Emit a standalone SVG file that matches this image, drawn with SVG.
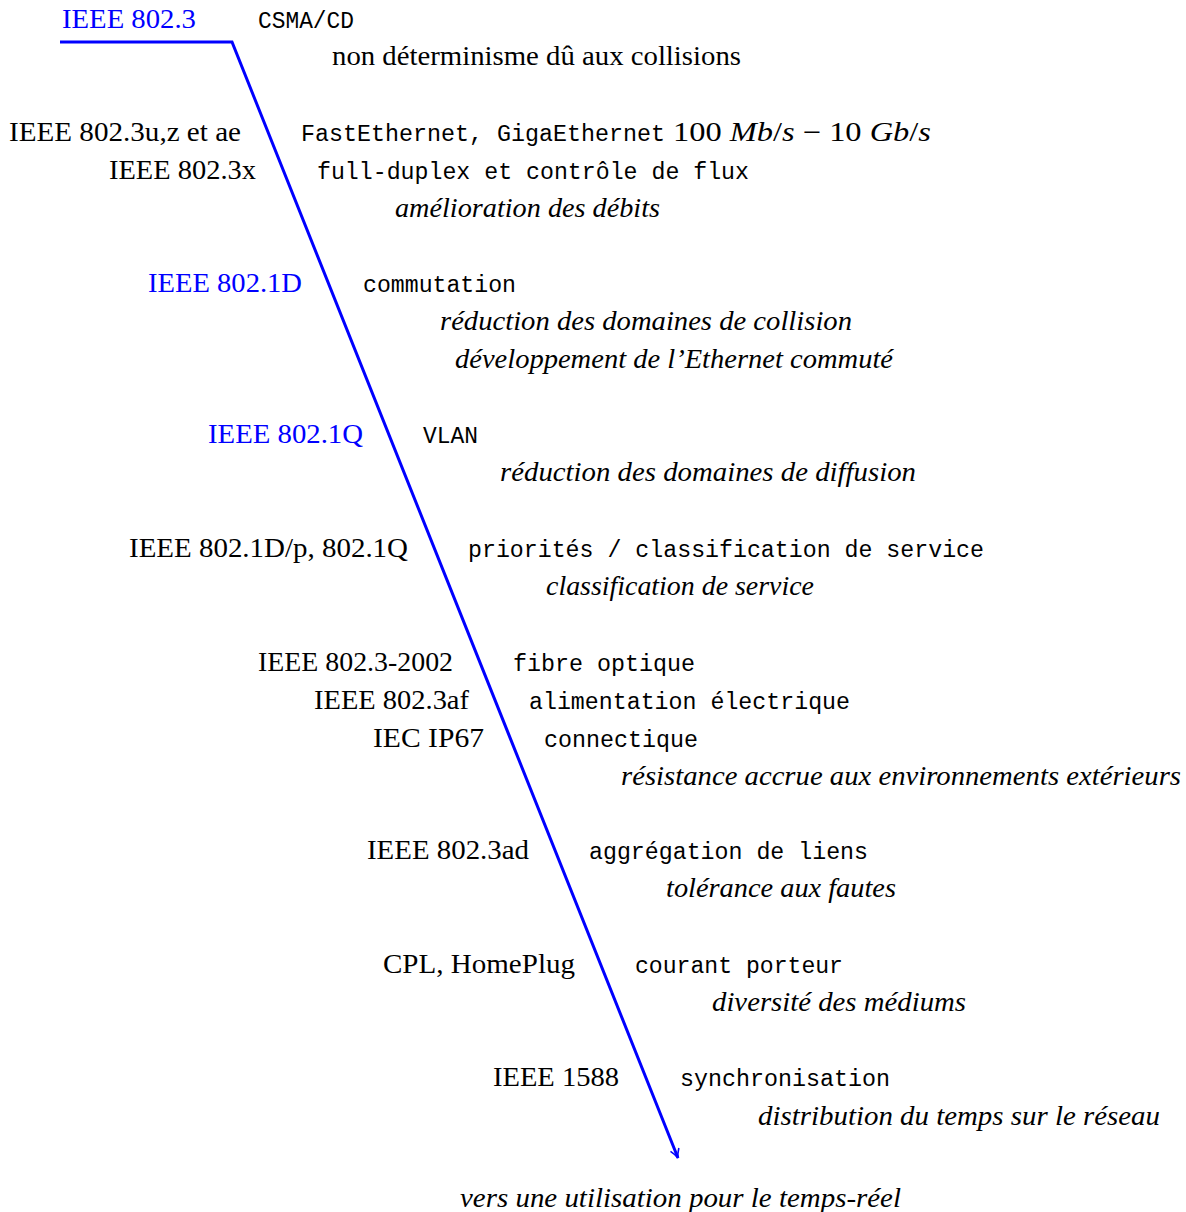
<svg xmlns="http://www.w3.org/2000/svg" width="1186" height="1212" viewBox="0 0 1186 1212">
<style>
.s{font-family:"Liberation Serif","DejaVu Serif",serif;font-size:27px;fill:#000}
.b{fill:#0000ff}
.i{font-family:"Liberation Serif","DejaVu Serif",serif;font-size:27px;font-style:italic;fill:#000}
.m{font-family:"Liberation Mono","DejaVu Sans Mono",monospace;font-size:23px;fill:#000}
.ln{fill:none;stroke:#0000ff;stroke-width:3}
</style>
<defs>
<marker id="ah" viewBox="-10 -6 12 12" refX="0" refY="0" markerWidth="12" markerHeight="12" markerUnits="userSpaceOnUse" orient="auto">
<path d="M-9,-4.5 Q-4,-1 0,0 Q-4,1 -9,4.5" fill="none" stroke="#0000ff" stroke-width="1.6"/>
</marker>
</defs>
<rect width="1186" height="1212" fill="#fff"/>
<g id="connectors">
<path class="ln" d="M60,42 L232,42 L678,1158" marker-end="url(#ah)"/>
</g>
<g id="n1">
<text class="s b" x="62" y="28" textLength="134" lengthAdjust="spacingAndGlyphs">IEEE 802.3</text>
<text class="m" x="258" y="28" textLength="96" lengthAdjust="spacingAndGlyphs">CSMA/CD</text>
<text class="s" x="332" y="65" textLength="409" lengthAdjust="spacingAndGlyphs">non déterminisme dû aux collisions</text>
</g>
<g id="n2">
<text class="s" x="9" y="141" textLength="232" lengthAdjust="spacingAndGlyphs">IEEE 802.3u,z et ae</text>
<text class="m" x="301" y="141" textLength="364" lengthAdjust="spacingAndGlyphs">FastEthernet, GigaEthernet</text>
<text class="s" x="673" y="141" textLength="258" lengthAdjust="spacingAndGlyphs">100 <tspan font-style="italic">Mb</tspan>/<tspan font-style="italic">s</tspan>  −  10 <tspan font-style="italic">Gb</tspan>/<tspan font-style="italic">s</tspan></text>
<text class="s" x="109" y="179" textLength="147" lengthAdjust="spacingAndGlyphs">IEEE 802.3x</text>
<text class="m" x="317" y="179" textLength="432" lengthAdjust="spacingAndGlyphs">full-duplex et contrôle de flux</text>
<text class="i" x="395" y="217" textLength="265" lengthAdjust="spacingAndGlyphs">amélioration des débits</text>
</g>
<g id="n3">
<text class="s b" x="148" y="292" textLength="154" lengthAdjust="spacingAndGlyphs">IEEE 802.1D</text>
<text class="m" x="363" y="292" textLength="153" lengthAdjust="spacingAndGlyphs">commutation</text>
<text class="i" x="440" y="330" textLength="412" lengthAdjust="spacingAndGlyphs">réduction des domaines de collision</text>
<text class="i" x="455" y="368" textLength="438" lengthAdjust="spacingAndGlyphs">développement de l’Ethernet commuté</text>
</g>
<g id="n4">
<text class="s b" x="208" y="443" textLength="155" lengthAdjust="spacingAndGlyphs">IEEE 802.1Q</text>
<text class="m" x="423" y="443" textLength="55" lengthAdjust="spacingAndGlyphs">VLAN</text>
<text class="i" x="500" y="481" textLength="416" lengthAdjust="spacingAndGlyphs">réduction des domaines de diffusion</text>
</g>
<g id="n5">
<text class="s" x="129" y="557" textLength="279" lengthAdjust="spacingAndGlyphs">IEEE 802.1D/p, 802.1Q</text>
<text class="m" x="468" y="557" textLength="516" lengthAdjust="spacingAndGlyphs">priorités / classification de service</text>
<text class="i" x="546" y="595" textLength="268" lengthAdjust="spacingAndGlyphs">classification de service</text>
</g>
<g id="n6">
<text class="s" x="258" y="671" textLength="195" lengthAdjust="spacingAndGlyphs">IEEE 802.3-2002</text>
<text class="m" x="513" y="671" textLength="182" lengthAdjust="spacingAndGlyphs">fibre optique</text>
<text class="s" x="314" y="709" textLength="155" lengthAdjust="spacingAndGlyphs">IEEE 802.3af</text>
<text class="m" x="529" y="709" textLength="321" lengthAdjust="spacingAndGlyphs">alimentation électrique</text>
<text class="s" x="373" y="747" textLength="111" lengthAdjust="spacingAndGlyphs">IEC IP67</text>
<text class="m" x="544" y="747" textLength="154" lengthAdjust="spacingAndGlyphs">connectique</text>
<text class="i" x="621" y="785" textLength="560" lengthAdjust="spacingAndGlyphs">résistance accrue aux environnements extérieurs</text>
</g>
<g id="n7">
<text class="s" x="367" y="859" textLength="162" lengthAdjust="spacingAndGlyphs">IEEE 802.3ad</text>
<text class="m" x="589" y="859" textLength="279" lengthAdjust="spacingAndGlyphs">aggrégation de liens</text>
<text class="i" x="666" y="897" textLength="230" lengthAdjust="spacingAndGlyphs">tolérance aux fautes</text>
</g>
<g id="n8">
<text class="s" x="383" y="973" textLength="192" lengthAdjust="spacingAndGlyphs">CPL, HomePlug</text>
<text class="m" x="635" y="973" textLength="208" lengthAdjust="spacingAndGlyphs">courant porteur</text>
<text class="i" x="712" y="1011" textLength="254" lengthAdjust="spacingAndGlyphs">diversité des médiums</text>
</g>
<g id="n9">
<text class="s" x="493" y="1086" textLength="126" lengthAdjust="spacingAndGlyphs">IEEE 1588</text>
<text class="m" x="680" y="1086" textLength="210" lengthAdjust="spacingAndGlyphs">synchronisation</text>
<text class="i" x="758" y="1125" textLength="402" lengthAdjust="spacingAndGlyphs">distribution du temps sur le réseau</text>
</g>
<g id="n10">
<text class="i" x="460" y="1207" textLength="441" lengthAdjust="spacingAndGlyphs">vers une utilisation pour le temps-réel</text>
</g>
</svg>
